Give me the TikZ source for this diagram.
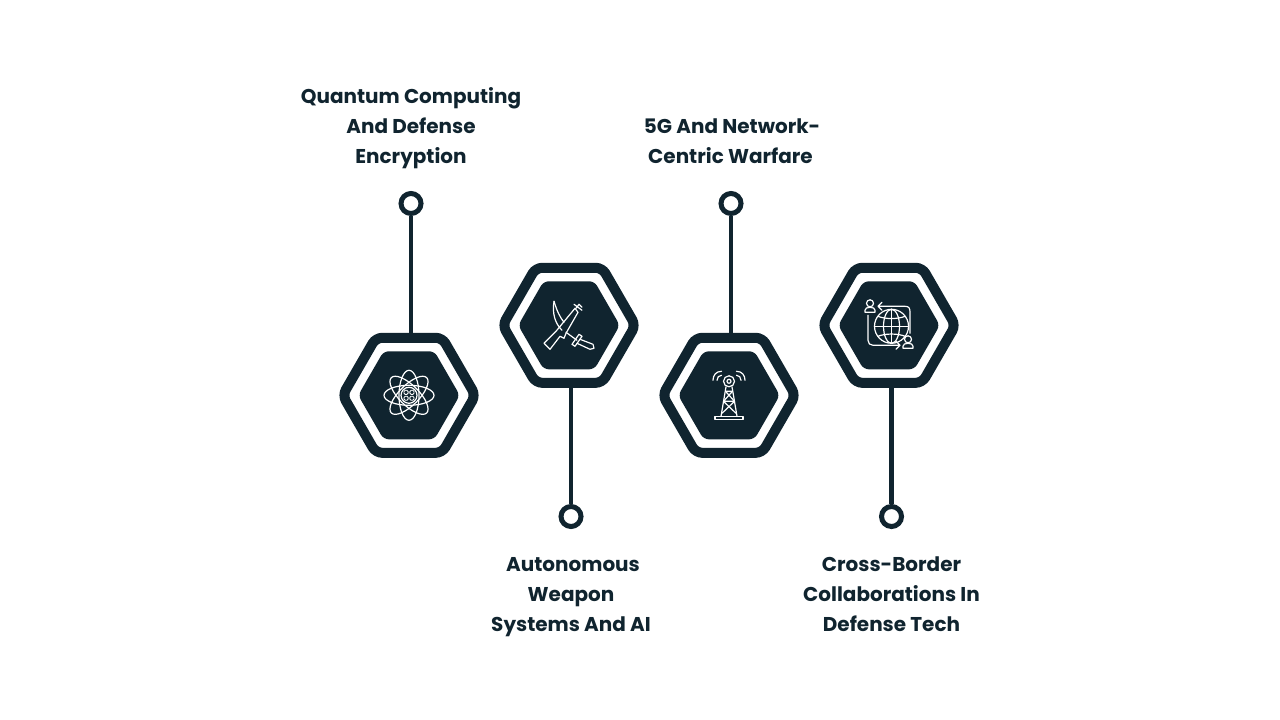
\documentclass[tikz,border=0pt]{standalone}
\usepackage{fontspec}
\setmainfont{Poppins}
\usepackage{tikz}
\usetikzlibrary{shapes.geometric}
\definecolor{navy}{HTML}{10242F}
\tikzset{
  hexring/.style={regular polygon, regular polygon sides=6, minimum size=3.32cm, inner sep=0pt, draw=navy, line width=.25cm, rounded corners=.16cm, fill=white},
  hexcore/.style={regular polygon, regular polygon sides=6, minimum size=2.54cm, inner sep=0pt, fill=navy, rounded corners=.13cm},
  pindot/.style={circle, draw=navy, line width=.125cm, fill=white, minimum size=.5cm, inner sep=0pt},
  pinline/.style={draw=navy, line width=.12cm},
  caption/.style={align=center, text=navy, font=\fontsize{14.2}{21.34}\selectfont\bfseries},
  iconline/.style={draw=white, line width=.03cm, line join=round, line cap=round}
}
\begin{document}
\begin{tikzpicture}[x=.025cm,y=-.025cm]
  \useasboundingbox (0,0) rectangle (1280,720);

  \node[hexring] (hexatom) at (409,395.3) {};
  \node[hexcore] (coreatom) at (409,395.3) {};
  \node[hexring] (hexweapon) at (569,325.3) {};
  \node[hexcore] (coreweapon) at (569,325.3) {};
  \node[hexring] (hextower) at (729,395.3) {};
  \node[hexcore] (coretower) at (729,395.3) {};
  \node[hexring] (hexglobe) at (889,325.3) {};
  \node[hexcore] (coreglobe) at (889,325.3) {};

  \node[pindot] (dotatom) at (411,203.5) {};
  \node[pindot] (dotweapon) at (571,516.5) {};
  \node[pindot] (dottower) at (731,203.5) {};
  \node[pindot] (dotglobe) at (891.5,516.5) {};

  \draw[pinline] (dotatom.south) -- (dotatom.south |- hexatom.north);
  \draw[pinline] (dotweapon.north) -- (dotweapon.north |- hexweapon.south);
  \draw[pinline] (dottower.south) -- (dottower.south |- hextower.north);
  \draw[pinline] (dotglobe.north) -- (dotglobe.north |- hexglobe.south);

  \node[caption] (textatom) at (411,128) {Quantum Computing\\And Defense\\Encryption};
  \node[caption] (textweapon) at (571,597) {\hspace*{.1cm}Autonomous\\Weapon\\Systems And AI};
  \node[caption] (texttower) at (730.5,141) {\hspace*{.08cm}5G And Network-\\Centric Warfare};
  \node[caption] (textglobe) at (891.5,594) {Cross-Border\\Collaborations In\\Defense Tech};

  \begin{scope}[shift={(coreatom)}, iconline]
    \draw (0,0) ellipse [x radius=25, y radius=10];
    \draw (0,0) ellipse [x radius=10, y radius=25];
    \draw[rotate=45] (0,0) ellipse [x radius=25, y radius=10];
    \draw[rotate=-45] (0,0) ellipse [x radius=25, y radius=10];
    \draw[fill=navy] (0,0) circle (8);
    \draw[line width=.022cm, rounded corners=.03cm] (-5,-5) rectangle (-.9,-.9) (.9,-5) rectangle (5,-.9) (-5,.9) rectangle (-.9,5) (.9,.9) rectangle (5,5);
  \end{scope}

  \begin{scope}[shift={(coreweapon)}, iconline]
    \draw (-15,-24) .. controls (-17,-12) and (-14,-2) .. (-7,5);
    \draw (-15,-24) .. controls (-12,-14) and (-9,-8) .. (-5,-3);
    \draw (-25,18) -- (-19,24) -- (-9,11) -- (-5,13) -- (-3,8) -- (9,-13) -- (6,-17) -- (-13,6) -- cycle;
    \draw (5,-21) -- (13,-15) (7,-17) -- (10,-21) -- (13,-18);
    \draw (-3,7) -- (8,15);
    \draw (10,9) -- (3,19) -- (6,21) -- (13,11) -- cycle;
    \draw (11,14) -- (24,19) -- (25,23) -- (21,24) -- (8,18);
  \end{scope}

  \begin{scope}[shift={(coretower)}, iconline]
    \draw (0,-14) circle (5.5);
    \draw (0,-14) circle (2);
    \draw (7.5,-24) .. controls (13,-24) and (16,-20) .. (16,-15);
    \draw (7.5,-20) .. controls (10,-20) and (12,-18) .. (12,-15);
    \draw (-7.5,-24) .. controls (-13,-24) and (-16,-20) .. (-16,-15);
    \draw (-7.5,-20) .. controls (-10,-20) and (-12,-18) .. (-12,-15);
    \draw (-14,21) rectangle (14,24);
    \draw (-3,-8.5) -- (-8,21) (3,-8.5) -- (8,21);
    \draw (-3.5,-4) -- (3.5,-4) (-3.5,-4) -- (5.5,6) (3.5,-4) -- (-5.5,6) (-5.5,6) -- (5.5,6);
    \draw (-5.5,6) -- (7,18) (5.5,6) -- (-7,18);
  \end{scope}

  \begin{scope}[shift={(coreglobe)}, iconline]
    \draw (2.5,1) circle (17);
    \draw (2.5,1) ellipse [x radius=8, y radius=17];
    \draw (2.5,-16) -- (2.5,18) (-14.5,1) -- (19.5,1);
    \draw (-11,-9) .. controls (-4,-6) and (9,-6) .. (16,-9);
    \draw (-11,11) .. controls (-4,8) and (9,8) .. (16,11);
    \draw (21,8) -- (21,-13) .. controls (21,-17) and (20,-19) .. (16,-19) -- (-10.5,-19) (-7,-23) -- (-11,-19) -- (-7,-15);
    \draw (-21,-10) -- (-21,15) .. controls (-21,18) and (-19,20) .. (-16,20) -- (11,20) (7,16) -- (11,20) -- (7,24);
    \draw (-19,-22) circle (3.5);
    \draw (-24,-13) -- (-14,-13) -- (-14,-15) .. controls (-14,-17) and (-16,-18) .. (-19,-18) .. controls (-22,-18) and (-24,-17) .. (-24,-15) -- cycle;
    \draw (19,14) circle (3.5);
    \draw (14,23) -- (24,23) -- (24,21) .. controls (24,19) and (22,18) .. (19,18) .. controls (16,18) and (14,19) .. (14,21) -- cycle;
  \end{scope}
\end{tikzpicture}
\end{document}
